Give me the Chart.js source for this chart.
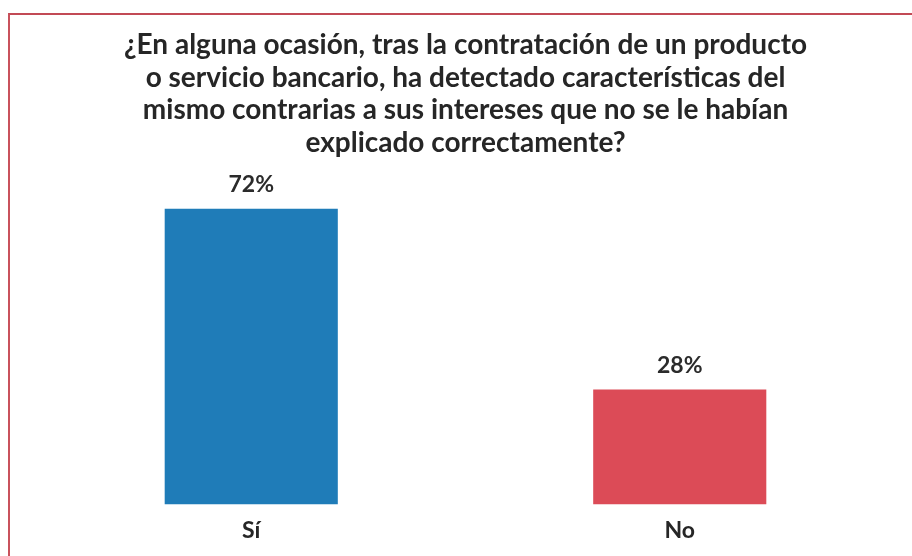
<!DOCTYPE html>
<html lang="es">
<head>
    <meta charset="UTF-8">
    <title>Encuesta productos bancarios</title>
    <script src="https://cdn.jsdelivr.net/npm/chart.js"></script>
    <style>
        html, body {
            margin: 0;
            padding: 0;
            background: #ffffff;
        }
        .wrap {
            position: relative;
            width: 912px;
            height: 556px;
            overflow: hidden;
        }
        .frame {
            position: absolute;
            left: 8px;
            top: 13px;
            width: 1000px;
            height: 1000px;
            border-left: 2px solid #c9525c;
            border-top: 2px solid #c24a55;
            pointer-events: none;
        }
    </style>
</head>
<body>
    <div class="wrap">
        <canvas id="chart" width="912" height="556"></canvas>
        <div class="frame"></div>
    </div>

    <script>
        const categories = ['Sí', 'No'];
        const values = [72, 28];
        const barColors = ['#1f7cb8', '#dc4b57'];
        const titleLines = [
            '¿En alguna ocasión, tras la contratación de un producto',
            'o servicio bancario, ha detectado características del',
            'mismo contrarias a sus intereses que no se le habían',
            'explicado correctamente?'
        ];

        const FONT = 'Lato, "Open Sans", sans-serif';

        // porcentaje encima de cada barra
        const valueLabels = {
            id: 'valueLabels',
            afterDatasetsDraw(chart) {
                const ctx = chart.ctx;
                const meta = chart.getDatasetMeta(0);
                ctx.save();
                ctx.font = 'bold 23px ' + FONT;
                ctx.fillStyle = '#2b2b2b';
                ctx.textAlign = 'center';
                ctx.textBaseline = 'middle';
                meta.data.forEach((bar, i) => {
                    ctx.fillText(values[i] + '%', bar.x, bar.y - 24);
                });
                ctx.restore();
            }
        };

        new Chart(document.getElementById('chart'), {
            type: 'bar',
            data: {
                labels: categories,
                datasets: [{
                    data: values,
                    backgroundColor: barColors,
                    borderWidth: 0,
                    categoryPercentage: 1,
                    barPercentage: 0.404
                }]
            },
            options: {
                responsive: false,
                animation: false,
                layout: {
                    padding: { left: 37, right: 18, top: 0, bottom: 0 }
                },
                plugins: {
                    legend: { display: false },
                    tooltip: { enabled: false },
                    title: {
                        display: true,
                        text: titleLines,
                        color: '#262626',
                        font: { family: FONT, size: 28, weight: 'bold', lineHeight: 1.16 },
                        padding: { top: 29, bottom: 17 }
                    }
                },
                scales: {
                    x: {
                        grid: { display: false, drawTicks: false },
                        border: { display: false },
                        ticks: {
                            color: '#262626',
                            font: { family: FONT, size: 23, weight: 'bold' },
                            padding: 12
                        }
                    },
                    y: {
                        display: false,
                        min: 0,
                        max: 80
                    }
                }
            },
            plugins: [valueLabels]
        });
    </script>
</body>
</html>
